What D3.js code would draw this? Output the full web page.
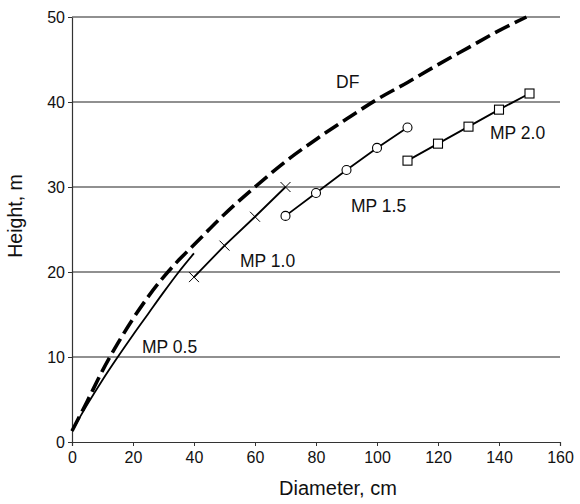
<!DOCTYPE html>
<html>
<head>
<meta charset="utf-8">
<script src="https://cdn.jsdelivr.net/npm/d3@7"></script>
<style>
  body { margin: 0; background: #fff; }
  text { font-family: "Liberation Sans", Arial, sans-serif; fill: #111; }
</style>
</head>
<body>
<div id="chart"></div>
<script>
// Data.
var dfDiam = [0, 5, 10, 15, 20, 25, 30, 35, 40, 50, 60, 70, 80, 90, 100, 110, 120, 130, 140, 149];
var dfHeight = [1.3, 4.8, 8.4, 11.6, 14.5, 17.1, 19.4, 21.4, 23.2, 26.8, 30.0, 33.0, 35.6, 38.0, 40.3, 42.3, 44.4, 46.4, 48.4, 50.0];

var mp05Diam = [0, 5, 10, 15, 20, 25, 30, 35, 40];
var mp05Height = [1.3, 4.4, 7.3, 10.0, 12.6, 15.1, 17.6, 20.0, 22.2];

var mp10Diam = [40, 50, 60, 70];
var mp10Height = [19.4, 23.1, 26.5, 30.0];

var mp15Diam = [70, 80, 90, 100, 110];
var mp15Height = [26.6, 29.3, 32.0, 34.6, 37.0];

var mp20Diam = [110, 120, 130, 140, 150];
var mp20Height = [33.1, 35.1, 37.1, 39.1, 41.0];

var xTicks = [0, 20, 40, 60, 80, 100, 120, 140, 160];
var yTicks = [0, 10, 20, 30, 40, 50];

function zip(xs, ys) {
    return xs.map(function(d, i) { return {x: d, y: ys[i]}; });
}

// Dimensions and margins.
var W = 580, H = 504;
var margin = {top: 17, right: 20, bottom: 62, left: 72},
    width = 560 - margin.left,
    height = 442 - margin.top;

var svg = d3.select("#chart")
    .append("svg")
    .attr("width", W)
    .attr("height", H)
    .append("g")
    .attr("transform", "translate(" + margin.left + "," + margin.top + ")");

// Scales.
var xScale = d3.scaleLinear().domain([0, 160]).range([0, width]),
    yScale = d3.scaleLinear().domain([0, 50]).range([height, 0]);

// Horizontal grid lines.
svg.selectAll(".grid")
    .data(yTicks.filter(function(d) { return d > 0; }))
    .enter().append("line")
    .attr("x1", 0)
    .attr("x2", width)
    .attr("y1", function(d) { return yScale(d); })
    .attr("y2", function(d) { return yScale(d); })
    .attr("stroke", "#222")
    .attr("stroke-width", 1.2);

// Axes.
var xAxis = svg.append("g")
    .attr("transform", "translate(0," + height + ")")
    .call(d3.axisBottom(xScale).tickValues(xTicks).tickSize(4).tickPadding(6).tickSizeOuter(4));
var yAxis = svg.append("g")
    .call(d3.axisLeft(yScale).tickValues(yTicks).tickSize(4).tickPadding(3).tickSizeOuter(0));

[xAxis, yAxis].forEach(function(a) {
    a.select(".domain").attr("stroke", "#333").attr("stroke-width", 1.2);
    a.selectAll(".tick line").attr("stroke", "#333");
    a.selectAll("text").style("font-size", "16px")
        .style("font-family", "'Liberation Sans', Arial, sans-serif").attr("fill", "#111");
});

// Lines.
var line = d3.line()
    .x(function(d) { return xScale(d.x); })
    .y(function(d) { return yScale(d.y); });
var curve = d3.line()
    .curve(d3.curveMonotoneX)
    .x(function(d) { return xScale(d.x); })
    .y(function(d) { return yScale(d.y); });

svg.append("path")
    .datum(zip(dfDiam, dfHeight))
    .attr("d", curve)
    .attr("fill", "none")
    .attr("stroke", "#000")
    .attr("stroke-width", 3.6)
    .attr("stroke-dasharray", "16,6");

svg.append("path")
    .datum(zip(mp05Diam, mp05Height))
    .attr("d", curve)
    .attr("fill", "none")
    .attr("stroke", "#000")
    .attr("stroke-width", 1.8);

[[mp10Diam, mp10Height], [mp15Diam, mp15Height], [mp20Diam, mp20Height]].forEach(function(s) {
    svg.append("path")
        .datum(zip(s[0], s[1]))
        .attr("d", line)
        .attr("fill", "none")
        .attr("stroke", "#000")
        .attr("stroke-width", 1.8);
});

// Markers.
svg.selectAll(".xmark")
    .data(zip(mp10Diam, mp10Height))
    .enter().append("path")
    .attr("transform", function(d) { return "translate(" + xScale(d.x) + "," + yScale(d.y) + ")"; })
    .attr("d", "M-5,-5L5,5M-5,5L5,-5")
    .attr("stroke", "#000")
    .attr("stroke-width", 1);

svg.selectAll(".circ")
    .data(zip(mp15Diam, mp15Height))
    .enter().append("circle")
    .attr("cx", function(d) { return xScale(d.x); })
    .attr("cy", function(d) { return yScale(d.y); })
    .attr("r", 4.5)
    .attr("fill", "#fff")
    .attr("stroke", "#000")
    .attr("stroke-width", 1.1);

svg.selectAll(".sq")
    .data(zip(mp20Diam, mp20Height))
    .enter().append("rect")
    .attr("x", function(d) { return xScale(d.x) - 4.5; })
    .attr("y", function(d) { return yScale(d.y) - 4.5; })
    .attr("width", 9)
    .attr("height", 9)
    .attr("fill", "#fff")
    .attr("stroke", "#000")
    .attr("stroke-width", 1.1);

// Series labels.
var labels = [
    {t: "DF", x: 336, y: 88},
    {t: "MP 2.0", x: 490, y: 139},
    {t: "MP 1.5", x: 351, y: 212},
    {t: "MP 1.0", x: 240, y: 267},
    {t: "MP 0.5", x: 142, y: 353}
];
d3.select("svg").selectAll(".lab")
    .data(labels)
    .enter().append("text")
    .attr("x", function(d) { return d.x; })
    .attr("y", function(d) { return d.y; })
    .style("font-size", "17.5px")
    .text(function(d) { return d.t; });

// Axis titles.
d3.select("svg").append("text")
    .attr("x", 338)
    .attr("y", 495)
    .attr("text-anchor", "middle")
    .style("font-size", "20px")
    .text("Diameter, cm");

d3.select("svg").append("text")
    .attr("transform", "translate(22,216) rotate(-90)")
    .attr("text-anchor", "middle")
    .style("font-size", "19.5px")
    .text("Height, m");
</script>
</body>
</html>
